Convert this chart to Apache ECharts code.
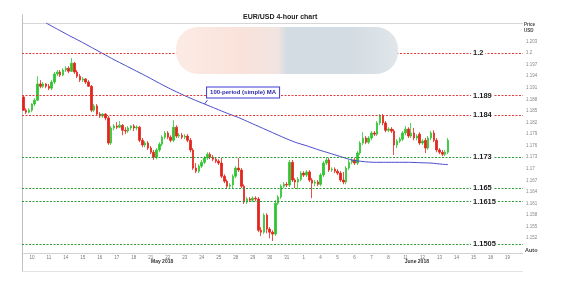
<!DOCTYPE html>
<html><head><meta charset="utf-8">
<script src="https://cdn.jsdelivr.net/npm/echarts@6/dist/echarts.min.js"></script>
<style>html,body{margin:0;padding:0;background:#fff}#c{width:570px;height:293px}</style>
</head><body><div id="c"></div>
<script>
// ---- data ----
const dayLabels = ['10','11','14','15','16','17','18','21','22','23','24','25','28','29','30','31','1','4','5','6','7','8','11','12','13','14','15','18','19'];
const monthNames = ['May 2018','June 2018'];
const monthIdx = [49, 139];
const openP = [
1.1886,1.1852,1.1847,1.1852,1.1868,1.1878,1.1920,1.1914,1.1920,1.1914,
1.1909,1.1925,1.1946,1.1951,1.1943,1.1956,1.1961,1.1953,1.1974,1.1951,
1.1940,1.1930,1.1933,1.1925,1.1914,1.1852,1.1863,1.1842,1.1837,1.1842,
1.1832,1.1767,1.1806,1.1811,1.1808,1.1813,1.1800,1.1798,1.1806,1.1811,
1.1806,1.1808,1.1774,1.1762,1.1767,1.1754,1.1743,1.1730,1.1749,1.1764,
1.1782,1.1793,1.1782,1.1774,1.1808,1.1785,1.1787,1.1782,1.1785,1.1774,
1.1749,1.1702,1.1694,1.1707,1.1717,1.1728,1.1738,1.1730,1.1725,1.1720,
1.1715,1.1681,1.1668,1.1655,1.1658,1.1681,1.1702,1.1697,1.1655,1.1614,
1.1622,1.1619,1.1624,1.1622,1.1541,1.1536,1.1580,1.1544,1.1536,1.1531,
1.1611,1.1627,1.1655,1.1660,1.1658,1.1717,1.1671,1.1666,1.1673,1.1689,
1.1684,1.1692,1.1671,1.1663,1.1666,1.1660,1.1684,1.1715,1.1723,1.1697,
1.1699,1.1694,1.1689,1.1671,1.1666,1.1702,1.1717,1.1723,1.1715,1.1741,
1.1767,1.1780,1.1769,1.1780,1.1793,1.1790,1.1819,1.1837,1.1819,1.1800,
1.1803,1.1798,1.1762,1.1772,1.1777,1.1793,1.1803,1.1785,1.1793,1.1780,
1.1790,1.1767,1.1774,1.1754,1.1780,1.1793,1.1774,1.1749,1.1743,1.1738,
1.1743];
const closeP = [
1.1852,1.1847,1.1852,1.1868,1.1878,1.1920,1.1914,1.1920,1.1914,1.1909,
1.1925,1.1946,1.1951,1.1943,1.1956,1.1961,1.1953,1.1974,1.1951,1.1940,
1.1930,1.1933,1.1925,1.1914,1.1852,1.1863,1.1842,1.1837,1.1842,1.1832,
1.1767,1.1806,1.1811,1.1808,1.1813,1.1800,1.1798,1.1806,1.1811,1.1806,
1.1808,1.1774,1.1762,1.1767,1.1754,1.1743,1.1730,1.1749,1.1764,1.1782,
1.1793,1.1782,1.1774,1.1808,1.1785,1.1787,1.1782,1.1785,1.1774,1.1749,
1.1702,1.1694,1.1707,1.1717,1.1728,1.1738,1.1730,1.1725,1.1720,1.1715,
1.1681,1.1668,1.1655,1.1658,1.1681,1.1702,1.1697,1.1655,1.1614,1.1622,
1.1619,1.1624,1.1622,1.1541,1.1536,1.1580,1.1544,1.1536,1.1531,1.1611,
1.1627,1.1655,1.1660,1.1658,1.1717,1.1671,1.1666,1.1673,1.1689,1.1684,
1.1692,1.1671,1.1663,1.1666,1.1660,1.1684,1.1715,1.1723,1.1697,1.1699,
1.1694,1.1689,1.1671,1.1666,1.1702,1.1717,1.1723,1.1715,1.1741,1.1767,
1.1780,1.1769,1.1780,1.1793,1.1790,1.1819,1.1837,1.1819,1.1800,1.1803,
1.1798,1.1762,1.1772,1.1777,1.1793,1.1803,1.1785,1.1793,1.1780,1.1785,
1.1767,1.1772,1.1754,1.1780,1.1793,1.1774,1.1749,1.1743,1.1738,1.1743,
1.1774];
const lowP = [
1.1850,1.1842,1.1844,1.1847,1.1863,1.1876,1.1909,1.1909,1.1909,1.1904,
1.1904,1.1920,1.1940,1.1938,1.1940,1.1951,1.1948,1.1951,1.1946,1.1935,
1.1925,1.1925,1.1920,1.1912,1.1847,1.1847,1.1837,1.1832,1.1832,1.1826,
1.1762,1.1762,1.1800,1.1803,1.1806,1.1787,1.1790,1.1793,1.1800,1.1798,
1.1800,1.1769,1.1756,1.1756,1.1749,1.1738,1.1723,1.1725,1.1743,1.1759,
1.1777,1.1777,1.1769,1.1769,1.1780,1.1780,1.1777,1.1777,1.1769,1.1743,
1.1697,1.1689,1.1689,1.1702,1.1712,1.1723,1.1725,1.1720,1.1715,1.1710,
1.1676,1.1663,1.1650,1.1650,1.1650,1.1676,1.1692,1.1650,1.1609,1.1609,
1.1614,1.1614,1.1616,1.1536,1.1526,1.1531,1.1533,1.1520,1.1513,1.1526,
1.1606,1.1622,1.1650,1.1653,1.1653,1.1666,1.1650,1.1647,1.1668,1.1679,
1.1679,1.1666,1.1624,1.1655,1.1655,1.1655,1.1679,1.1710,1.1692,1.1692,
1.1689,1.1684,1.1666,1.1660,1.1660,1.1697,1.1712,1.1710,1.1710,1.1736,
1.1762,1.1764,1.1764,1.1774,1.1785,1.1785,1.1813,1.1813,1.1795,1.1795,
1.1793,1.1736,1.1754,1.1767,1.1772,1.1787,1.1780,1.1780,1.1774,1.1774,
1.1762,1.1762,1.1741,1.1749,1.1774,1.1769,1.1743,1.1738,1.1733,1.1733,
1.1738];
const highP = [
1.1891,1.1857,1.1857,1.1870,1.1883,1.1940,1.1930,1.1925,1.1922,1.1920,
1.1930,1.1951,1.1956,1.1956,1.1961,1.1966,1.1966,1.1987,1.1977,1.1956,
1.1946,1.1938,1.1935,1.1930,1.1917,1.1868,1.1868,1.1847,1.1844,1.1844,
1.1837,1.1811,1.1816,1.1821,1.1824,1.1816,1.1808,1.1811,1.1813,1.1816,
1.1813,1.1811,1.1780,1.1772,1.1772,1.1759,1.1749,1.1754,1.1769,1.1787,
1.1798,1.1798,1.1787,1.1826,1.1813,1.1793,1.1793,1.1790,1.1790,1.1780,
1.1754,1.1715,1.1712,1.1723,1.1733,1.1743,1.1743,1.1736,1.1730,1.1725,
1.1728,1.1686,1.1673,1.1663,1.1686,1.1707,1.1728,1.1702,1.1660,1.1627,
1.1627,1.1629,1.1629,1.1627,1.1549,1.1585,1.1585,1.1549,1.1541,1.1619,
1.1632,1.1660,1.1666,1.1666,1.1723,1.1723,1.1676,1.1679,1.1694,1.1694,
1.1697,1.1697,1.1676,1.1671,1.1671,1.1689,1.1720,1.1730,1.1728,1.1704,
1.1704,1.1699,1.1694,1.1692,1.1707,1.1723,1.1728,1.1728,1.1746,1.1772,
1.1795,1.1785,1.1785,1.1798,1.1798,1.1824,1.1842,1.1842,1.1824,1.1808,
1.1808,1.1803,1.1777,1.1782,1.1798,1.1811,1.1808,1.1819,1.1806,1.1790,
1.1795,1.1777,1.1780,1.1785,1.1798,1.1800,1.1780,1.1754,1.1749,1.1749,
1.1780];
const maIdx = [8,12,16,20,24,28,32,36,40,44,48,52,56,60,64,68,72,76,80,84,88,92,96,100,104,108,112,116,120,124,128,132,136,140,144,148,150];
const maVal = [1.2078,1.2062,1.2046,1.2031,1.2015,1.1999,1.1983,1.1968,1.1953,1.1938,1.1922,1.1907,1.1893,1.1880,1.1868,1.1856,1.1844,1.1833,1.1820,1.1807,1.1794,1.1781,1.1769,1.1760,1.1750,1.1741,1.1732,1.1723,1.1719,1.1717,1.1717,1.1717,1.1717,1.1716,1.1715,1.1712,1.1711];
const levelVals = [1.2, 1.189, 1.184, 1.173, 1.165, 1.1615, 1.1505];
const levelText = ['1.2','1.189','1.184','1.173','1.165','1.1615','1.1505'];
const levelKind = ['res','res','res','sup','sup','sup','sup'];
const maNote = '100-period (simple) MA';
const maNoteIdx = 64;

// ---- build ----
const nSlots = 177, perDay = 6, firstDay = 3;
const cats = [], slotLabel = [];
for (let i = 0; i < nSlots; i++) {
  cats.push('s' + i);
  const k = (i - firstDay) / perDay;
  slotLabel.push(Number.isInteger(k) && k >= 0 && k < dayLabels.length ? dayLabels[k] : '');
}
const candleData = openP.map((o, i) => [o, closeP[i], lowP[i], highP[i]]);
const maData = maIdx.map((x, i) => [x, maVal[i]]);
const RED = '#e2241c', GREEN = '#30c530', FONT = 'Liberation Sans';

const levelLines = levelVals.map((v, k) => ({
  yAxis: v,
  lineStyle: {color: levelKind[k] === 'res' ? '#e03a3a' : '#2e9a38', type: [2, 1.5], width: 1},
  label: {show: true, position: 'insideStart', distance: [449, 0], formatter: levelText[k],
    color: '#1a1a1a', fontWeight: 'bold', fontSize: 7.5, fontFamily: FONT,
    backgroundColor: '#fff', padding: [1, 2]}
}));
const markerLabel = (c) => ({show: true, position: 'end', distance: 0, formatter: ' ',
  backgroundColor: c, width: 14, height: 4, padding: 0, fontSize: 4, lineHeight: 4});
const lastClose = closeP[closeP.length - 1];
const lastMa = maVal[maVal.length - 1];
const maAtNote = maVal[maIdx.indexOf(maNoteIdx)];

const chart = echarts.init(document.getElementById('c'));
chart.setOption({
  animation: false,
  backgroundColor: '#fff',
  title: {text: 'EUR/USD 4-hour chart', left: 243, top: 14, padding: 0,
    textStyle: {fontSize: 7, fontWeight: 'bold', color: '#222', fontFamily: FONT}},
  grid: [
    {left: 22, right: 47, top: 23, bottom: 40},
    {left: 22, right: 47, top: 18.27, bottom: 31.63}
  ],
  xAxis: [
    {type: 'category', gridIndex: 0, data: cats, boundaryGap: true,
      axisLine: {lineStyle: {color: '#d2d2d2'}}, axisTick: {show: false}, splitLine: {show: false},
      axisLabel: {interval: (i) => slotLabel[i] !== '', formatter: (v, i) => slotLabel[i],
        fontSize: 4.5, color: '#777', margin: 2, fontFamily: FONT}},
    {type: 'category', gridIndex: 0, data: cats, position: 'bottom', boundaryGap: true,
      axisLine: {show: false}, axisTick: {show: false}, splitLine: {show: false},
      axisLabel: {interval: (i) => monthIdx.indexOf(i) >= 0, formatter: (v, i) => monthNames[monthIdx.indexOf(i)] || '',
        fontSize: 5, fontWeight: 'bold', color: '#333', margin: 6, fontFamily: FONT}},
    {type: 'value', gridIndex: 1, show: false, min: 0, max: 1}
  ],
  yAxis: [
    {type: 'value', gridIndex: 0, min: 1.1482, max: 1.2078, show: false, splitLine: {show: false}},
    {type: 'value', gridIndex: 1, min: 1.146, max: 1.209, interval: 0.003, position: 'right',
      axisLine: {show: true, lineStyle: {color: '#bdbdbd'}}, axisTick: {show: false}, splitLine: {show: false},
      axisLabel: {fontSize: 4.5, color: '#888', margin: 3, fontFamily: FONT,
        formatter: (v) => (v > 1.2035 || v < 1.1505) ? '' : String(+v.toFixed(3))}}
  ],
  series: [
    {type: 'candlestick', xAxisIndex: 0, yAxisIndex: 0, data: candleData, barWidth: 2,
      itemStyle: {color: GREEN, color0: RED, borderColor: GREEN, borderColor0: RED, borderWidth: 0.8},
      markLine: {silent: true, symbol: ['none', 'none'], animation: false, precision: 6,
        data: levelLines.concat([{yAxis: lastClose, lineStyle: {opacity: 0}, label: markerLabel('#d4111b')}])}},
    {type: 'line', xAxisIndex: 0, yAxisIndex: 0, data: maData, showSymbol: false, smooth: 0.2, z: 3,
      lineStyle: {color: '#4a4acb', width: 1},
      markLine: {silent: true, symbol: ['none', 'none'], animation: false, precision: 6,
        data: [
          {yAxis: lastMa, lineStyle: {opacity: 0}, label: markerLabel('#1a22c8')},
          [{coord: [maNoteIdx, maAtNote], lineStyle: {color: '#4a4acb', width: 1, type: 'solid'}, label: {show: false}},
           {coord: [maNoteIdx + 1, maAtNote + 0.001]}]
        ]},
      markPoint: {silent: true, symbol: 'rect', symbolSize: 1, itemStyle: {color: 'rgba(0,0,0,0)'},
        data: [{coord: [maNoteIdx, maAtNote],
          label: {show: true, position: [3, -16], formatter: maNote, color: '#2a2aa8', fontSize: 6,
            fontWeight: 'bold', fontFamily: FONT, backgroundColor: '#fff', borderColor: '#3b3bd0',
            borderWidth: 1, padding: [2, 3]}}]}}
  ],
  graphic: [
    {type: 'line', shape: {x1: 22.5, y1: 14, x2: 22.5, y2: 272}, style: {stroke: '#c4c4c4', lineWidth: 1}, silent: true},
    {type: 'line', shape: {x1: 22, y1: 23.5, x2: 523, y2: 23.5}, style: {stroke: '#d6d6d6', lineWidth: 1}, silent: true},
    {type: 'line', shape: {x1: 22, y1: 271.5, x2: 523, y2: 271.5}, style: {stroke: '#e2e2e2', lineWidth: 1}, silent: true},
    {type: 'rect', z: 100, shape: {x: 176, y: 27, width: 222, height: 47, r: 22}, silent: true,
      style: {fill: new echarts.graphic.LinearGradient(0, 0, 1, 0, [
        {offset: 0, color: '#fcebe5'}, {offset: 0.3, color: '#f9e2da'}, {offset: 0.46, color: '#f1e4e0'},
        {offset: 0.5, color: '#d2dce2'}, {offset: 0.78, color: '#d3dce2'}, {offset: 1, color: '#e0e6ea'}])}},
    {type: 'text', left: 524, top: 22, silent: true, style: {text: 'Price', fontSize: 4.5, fontWeight: 'bold', fill: '#444', fontFamily: FONT}},
    {type: 'text', left: 524, top: 28, silent: true, style: {text: 'USD', fontSize: 4.5, fontWeight: 'bold', fill: '#444', fontFamily: FONT}},
    {type: 'text', left: 525, top: 247, silent: true, style: {text: 'Auto', fontSize: 5.5, fontWeight: 'bold', fill: '#444', fontFamily: FONT}}
  ]
});
</script>
</body></html>
